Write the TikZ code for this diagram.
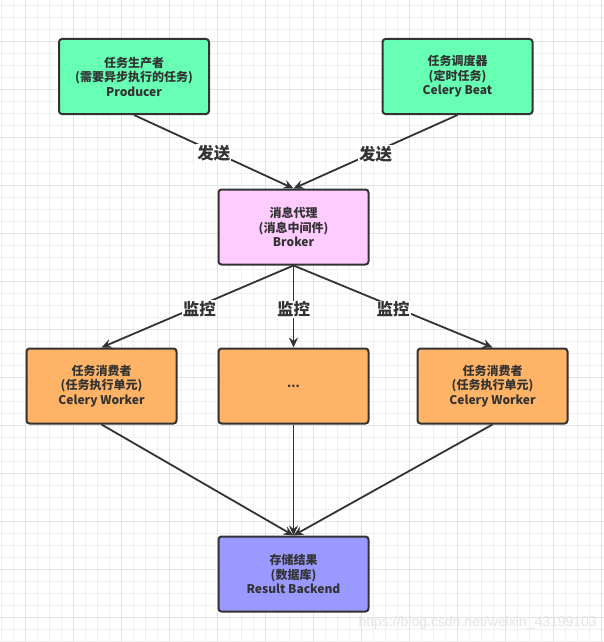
\documentclass[tikz,border=0pt]{standalone}
\usepackage{fontspec}
\setmainfont{Noto Sans CJK SC}
\newfontfamily\wmfont{Liberation Sans}
\usetikzlibrary{arrows.meta}
\definecolor{inkc}{HTML}{333333}
\definecolor{gridminor}{HTML}{F0F0F0}
\definecolor{gridmajor}{HTML}{E2E2E2}
\definecolor{greenfill}{HTML}{66FFB3}
\definecolor{pinkfill}{HTML}{FFCCFF}
\definecolor{orangefill}{HTML}{FFB366}
\definecolor{bluefill}{HTML}{9999FF}
\definecolor{wmcolor}{HTML}{E4E4E4}
\tikzset{
  box/.style={draw=inkc, line width=2pt, rounded corners=3pt, minimum width=150pt, minimum height=75pt,
    align=center, text=inkc, font=\bfseries\fontsize{12}{14.5}\selectfont, inner sep=0pt},
  conn/.style={draw=inkc, line width=1.8pt, -{Stealth[length=10pt,width=9pt,inset=3.5pt]}},
  elabel/.style={fill=white, text=inkc, font=\bfseries\fontsize{16.5}{18}\selectfont, inner sep=1pt},
}
\begin{document}
\begin{tikzpicture}[x=1pt,y=-1pt]
\useasboundingbox (0,0) rectangle (604,642);
\fill[white] (0,0) rectangle (604,642);
% grid
\foreach \k in {0,...,50} {\draw[gridminor, line width=1pt] (1.3+12*\k,0) -- (1.3+12*\k,642);}
\foreach \k in {0,...,53} {\draw[gridminor, line width=1pt] (0,5.3+12*\k) -- (604,5.3+12*\k);}
\foreach \k in {0,...,12} {\draw[gridmajor, line width=1pt] (25.3+48*\k,0) -- (25.3+48*\k,642);}
\foreach \k in {0,...,12} {\draw[gridmajor, line width=1pt] (0,41.3+48*\k) -- (604,41.3+48*\k);}
% nodes
\node[box, fill=greenfill] (prod) at (134,76.5) {任务生产者\\(需要异步执行的任务)\\Producer};
\node[box, fill=greenfill] (beat) at (457.5,76.5) {任务调度器\\(定时任务)\\Celery Beat};
\node[box, fill=pinkfill] (broker) at (293.5,227) {消息代理\\(消息中间件)\\Broker};
\node[box, fill=orangefill] (w1) at (101.5,386) {任务消费者\\(任务执行单元)\\Celery Worker};
\node[box, fill=orangefill] (w2) at (293.5,386) {...};
\node[box, fill=orangefill] (w3) at (492.5,386) {任务消费者\\(任务执行单元)\\Celery Worker};
\node[box, fill=bluefill] (res) at (293.5,574) {存储结果\\(数据库)\\Result Backend};
% connectors
\draw[conn] (prod.south) -- node[elabel, pos=0.5, yshift=-1.5pt] {发送} (broker.north);
\draw[conn] (beat.south) -- node[elabel, pos=0.5, yshift=-2pt] {发送} (broker.north);
\draw[conn] (broker.south) -- node[elabel, pos=0.49, yshift=-3pt] {监控} (w1.north);
\draw[conn] (broker.south) -- node[elabel, pos=0.5, yshift=-3pt] {监控} (w2.north);
\draw[conn] (broker.south) -- node[elabel, pos=0.5, yshift=-3pt] {监控} (w3.north);
\draw[conn] (w1.south) -- (res.north);
\draw[conn] (w2.south) -- (res.north);
\draw[conn] (w3.south) -- (res.north);
% watermark
\node[anchor=east, text=wmcolor, font=\wmfont\fontsize{14}{16}\selectfont, inner sep=0pt] (wm) at (597,623) {https://blog.csdn.net/weixin\_43199103};
\end{tikzpicture}
\end{document}
